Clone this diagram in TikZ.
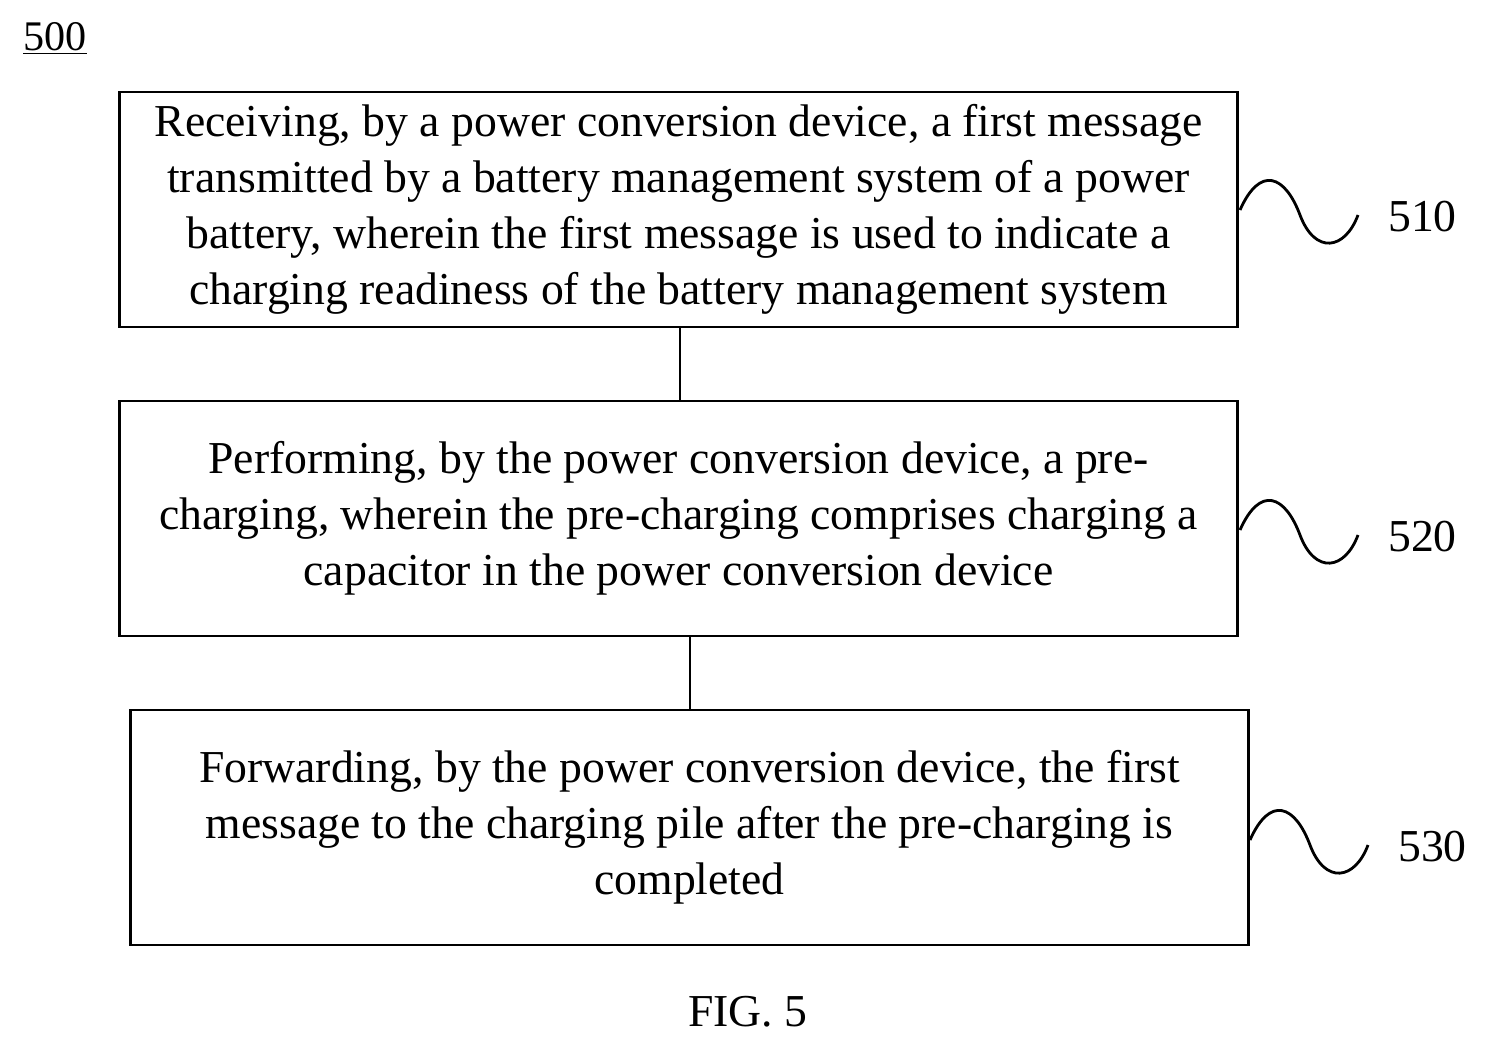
\documentclass[tikz,border=0pt]{standalone}
\usepackage{fontspec}
\setmainfont{Liberation Serif}
\usetikzlibrary{positioning}
\tikzset{
  % Stile per i passi del metodo
  stepbox/.style={draw, line width=1.6pt, minimum width=22.38cm, minimum height=4.7cm,
    align=center, font=\fontsize{26}{32}\selectfont},
  link/.style={line width=1.6pt},
  wave/.style={line width=1.6pt},
  tag/.style={font=\fontsize{26}{30}\selectfont}
}
\begin{document}
\begin{tikzpicture}[x=0.02cm, y=-0.02cm]
  \useasboundingbox (0,0) rectangle (1488,1048);

  \node[font=\fontsize{24}{28}\selectfont] (fig) at (55,38) {\underline{500}};

  \node[stepbox] (s510) at (678.5,209.5) {Receiving, by a power conversion device, a first message\\ transmitted by a battery management system of a power\\ battery, wherein the first message is used to indicate a\\ charging readiness of the battery management system};
  \node[stepbox] (s520) at (678.5,518.5) {Performing, by the power conversion device, a pre-\\ charging, wherein the pre-charging comprises charging a\\ capacitor in the power conversion device};
  \node[stepbox] (s530) at (689.5,827.5) {Forwarding, by the power conversion device, the first\\ message to the charging pile after the pre-charging is\\ completed};

  \draw[link] (s510.south -| 680,0) -- (s520.north -| 680,0);
  \draw[link] (s520.south -| 690,0) -- (s530.north -| 690,0);

  % onde con etichette
  \foreach \lab/\xx/\yy in {510/1240/210, 520/1240/530, 530/1250/840} {
    \draw[wave] (\xx,\yy) .. controls (\xx+20,\yy-45) and (\xx+45,\yy-35) .. (\xx+60,\yy+5)
      .. controls (\xx+75,\yy+45) and (\xx+105,\yy+40) .. (\xx+118,\yy+5);
    \node[tag, anchor=west] (t\lab) at (\xx+142,\yy+7) {\lab};
  }

  \node[font=\fontsize{26}{30}\selectfont] (cap) at (748,1012) {FIG. 5};
\end{tikzpicture}
\end{document}
